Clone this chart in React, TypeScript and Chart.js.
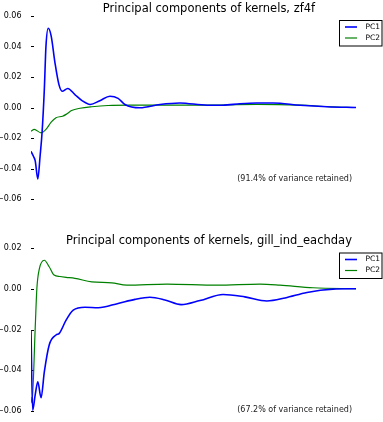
import React, { useEffect, useRef } from "react";
import { Chart, registerables } from "chart.js";

Chart.register(...registerables);

const FONT = "'DejaVu Sans', 'Liberation Sans', sans-serif";
const BLUE = "#0000ff";
const GREEN = "#008000";

// ---- zf4f kernels: lag index (0-100) and component loadings ----
const zf4fPC1Lag = [0, 0.7, 1.3, 2.1, 2.8, 3.4, 4.1, 4.6, 5.3, 6.2, 7.4, 8.6, 9.6, 11.3, 13.5, 15.7, 18.2, 21.2, 24.3, 26.8, 28.9, 33.5, 39.7, 45.8, 54.2, 59.1, 64.3, 69.5, 74.5, 82.8, 91.1, 100];
const zf4fPC1 = [-0.0287, -0.0318, -0.035, -0.0468, -0.0318, -0.0166, 0.0118, 0.04, 0.052, 0.047, 0.029, 0.015, 0.0107, 0.0125, 0.0085, 0.0045, 0.002, 0.0045, 0.0074, 0.006, 0.002, -0.0002, 0.002, 0.003, 0.0015, 0.0015, 0.0025, 0.003, 0.003, 0.0015, 0.0005, 0];
const zf4fPC2Lag = [0, 1.0, 3.1, 4.6, 6.2, 7.7, 9.7, 10.8, 12.5, 15.1, 18.7, 23.7, 30.5, 52, 69.5, 82.8, 92, 100];
const zf4fPC2 = [-0.0155, -0.0144, -0.0166, -0.0144, -0.0096, -0.0067, -0.0057, -0.0045, -0.002, -0.0005, 0.0005, 0.0013, 0.0015, 0.0015, 0.002, 0.0015, 0.0005, 0];

// ---- gill_ind_eachday kernels ----
const gillPC1Lag = [0, 0.5, 1.3, 2.1, 3.1, 4.1, 5.6, 7.7, 8.7, 10.8, 13, 16.6, 20.7, 26.8, 32, 36.6, 41.2, 46.2, 52, 59.1, 65.8, 72.6, 78.2, 84.9, 92.9, 100];
const gillPC1 = [-0.0203, -0.0596, -0.052, -0.0457, -0.0535, -0.0408, -0.0276, -0.0227, -0.0219, -0.0154, -0.0105, -0.0091, -0.0093, -0.0072, -0.0052, -0.0042, -0.0055, -0.0078, -0.0058, -0.0028, -0.004, -0.006, -0.0045, -0.0018, -0.0002, 0];
const gillPC2Lag = [0, 0.3, 1.3, 1.8, 2.6, 4.1, 5.6, 7.1, 8.9, 10.8, 13.5, 18.7, 24.8, 29.5, 41.8, 57.2, 70.5, 76.6, 86.8, 100];
const gillPC2 = [-0.053, -0.056, -0.019, 0, 0.01, 0.014, 0.0108, 0.0067, 0.006, 0.0056, 0.0051, 0.0034, 0.0029, 0.0018, 0.0023, 0.0018, 0.0023, 0.0018, 0.0005, 0];

const seriesNames = ["PC1", "PC2"];

type PanelProps = {
  title: string;
  note: string;
  pc1Lag: number[];
  pc1: number[];
  pc2Lag: number[];
  pc2: number[];
  yMin: number;
  yMax: number;
  padTop: number;
  padBottom: number;
  titleY: number;
  legendTop: number;
  noteY: number;
};

const W = 383;
const H = 211;

function fmtTick(v: number): string {
  if (Math.abs(v) < 1e-9) return "0.00";
  const s = Math.abs(v).toFixed(2);
  return v < 0 ? "\u2212" + s : s;
}

function Panel(p: PanelProps) {
  const ref = useRef<HTMLCanvasElement | null>(null);

  useEffect(() => {
    if (!ref.current) return;

    const decorations = {
      id: "decorations",
      beforeDatasetsDraw(chart: any) {
        const { ctx, chartArea } = chart;
        const y = chart.scales.y;
        ctx.save();
        ctx.strokeStyle = "#000";
        ctx.lineWidth = 1;
        y.ticks.forEach((t: any) => {
          const py = Math.round(y.getPixelForValue(t.value)) + 0.5;
          ctx.beginPath();
          ctx.moveTo(chartArea.left, py);
          ctx.lineTo(chartArea.left + 3, py);
          ctx.stroke();
        });
        ctx.restore();
      },
      afterDraw(chart: any) {
        const { ctx } = chart;
        ctx.save();
        // title
        ctx.fillStyle = "#000";
        ctx.font = `11.5px ${FONT}`;
        ctx.textAlign = "center";
        ctx.textBaseline = "middle";
        ctx.fillText(p.title, 209, p.titleY);

        // variance note
        ctx.font = `8px ${FONT}`;
        ctx.textAlign = "right";
        ctx.fillStyle = "#222";
        ctx.fillText(p.note, 352, p.noteY);

        // legend
        const bx = 339.5;
        const by = p.legendTop + 0.5;
        ctx.fillStyle = "#fff";
        ctx.fillRect(bx, by, 42.5, 25.5);
        ctx.strokeStyle = "#000";
        ctx.lineWidth = 1;
        ctx.strokeRect(bx, by, 42.5, 25.5);
        const colors = [BLUE, GREEN];
        const widths = [1.6, 1.2];
        ctx.font = `7.5px ${FONT}`;
        ctx.textAlign = "left";
        ctx.textBaseline = "middle";
        seriesNames.forEach((name, i) => {
          const ly = p.legendTop + 7 + i * 11;
          ctx.strokeStyle = colors[i];
          ctx.lineWidth = widths[i];
          ctx.beginPath();
          ctx.moveTo(345, ly);
          ctx.lineTo(357, ly);
          ctx.stroke();
          ctx.fillStyle = "#000";
          ctx.fillText(name, 365.5, ly);
        });
        ctx.restore();
      },
    };

    const toPts = (xs: number[], ys: number[]) => xs.map((x, i) => ({ x, y: ys[i] }));

    const chart = new Chart(ref.current, {
      type: "line",
      data: {
        datasets: [
          {
            label: seriesNames[0],
            data: toPts(p.pc1Lag, p.pc1),
            borderColor: BLUE,
            borderWidth: 1.6,
            pointRadius: 0,
            cubicInterpolationMode: "monotone",
            fill: false,
          },
          {
            label: seriesNames[1],
            data: toPts(p.pc2Lag, p.pc2),
            borderColor: GREEN,
            borderWidth: 1.2,
            pointRadius: 0,
            cubicInterpolationMode: "monotone",
            fill: false,
          },
        ],
      },
      options: {
        animation: false,
        responsive: false,
        events: [],
        layout: { padding: { top: p.padTop, bottom: p.padBottom, left: 0, right: 27 } },
        plugins: {
          legend: { display: false },
          title: { display: false },
          tooltip: { enabled: false },
        },
        scales: {
          x: { type: "linear", min: 0, max: 100, display: false },
          y: {
            min: p.yMin,
            max: p.yMax,
            grid: { display: false },
            border: { display: false },
            afterFit(scale: any) {
              scale.width = 31;
            },
            ticks: {
              stepSize: 0.02,
              padding: 1.5,
              color: "#000",
              font: { family: FONT, size: 8 },
              callback: (v: any) => fmtTick(Number(v)),
            },
          },
        },
      },
      plugins: [decorations],
    });

    return () => chart.destroy();
  }, []);

  return <canvas ref={ref} width={W} height={H} style={{ display: "block", width: W, height: H }} />;
}

export default function App() {
  return (
    <div style={{ position: "fixed", left: 0, top: 0, width: W, height: 422, background: "#fff" }}>
      <Panel
        title="Principal components of kernels, zf4f"
        note="(91.4% of variance retained)"
        pc1Lag={zf4fPC1Lag}
        pc1={zf4fPC1}
        pc2Lag={zf4fPC2Lag}
        pc2={zf4fPC2}
        yMin={-0.06}
        yMax={0.06}
        padTop={16}
        padBottom={12}
        titleY={9}
        legendTop={20}
        noteY={179}
      />
      <Panel
        title="Principal components of kernels, gill_ind_eachday"
        note="(67.2% of variance retained)"
        pc1Lag={gillPC1Lag}
        pc1={gillPC1}
        pc2Lag={gillPC2Lag}
        pc2={gillPC2}
        yMin={-0.06}
        yMax={0.02}
        padTop={37}
        padBottom={11}
        titleY={29.7}
        legendTop={41.5}
        noteY={199}
      />
    </div>
  );
}
